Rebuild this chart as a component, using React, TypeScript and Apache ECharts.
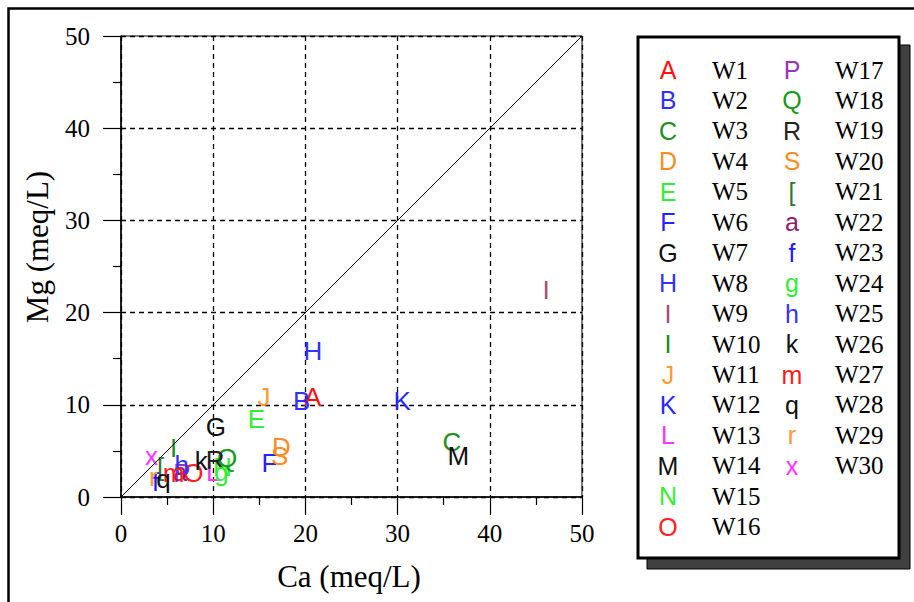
import React, { useEffect, useRef } from 'react';
import * as echarts from 'echarts';

const wells = ['W1','W2','W3','W4','W5','W6','W7','W8','W9','W10','W11','W12','W13','W14','W15','W16','W17','W18','W19','W20','W21','W22','W23','W24','W25','W26','W27','W28','W29','W30'];
const letters = ['A','B','C','D','E','F','G','H','I','I','J','K','L','M','N','O','P','Q','R','S','[','a','f','g','h','k','m','q','r','x'];
const letterColors = ['#ff1010','#3030ff','#1e8f1e','#ff8a20','#33ee33','#2424ff','#111111','#3333ff','#a05070','#228822','#ff9933','#2828ff','#ff33ff','#111111','#33ee33','#ff2020','#9933bb','#1a9a1a','#222222','#ff8c1a','#2a7a2a','#8e1e6e','#1a1aff','#33ee33','#3333ff','#111111','#ff1a1a','#111111','#ff9933','#ff33ff'];
const caValues = [20.8,19.6,35.9,17.4,14.7,16.1,10.3,20.8,46.1,5.7,15.5,30.5,10.0,36.6,11.0,7.85,6.6,11.5,10.2,17.2,4.3,6.4,3.75,10.9,6.6,8.7,5.7,4.6,3.5,3.3];
const mgValues = [10.8,10.4,6.0,5.4,8.5,3.7,7.6,15.8,22.5,5.3,10.9,10.4,2.7,4.4,3.3,2.6,2.6,4.2,4.0,4.45,3.2,2.7,1.6,2.7,3.5,3.9,2.6,1.9,2.2,4.4];
const axisTicks = [0, 10, 20, 30, 40, 50];
const xTitle = 'Ca (meq/L)';
const yTitle = 'Mg (meq/L)';

export default function App() {
  const ref = useRef<HTMLDivElement>(null);
  useEffect(() => {
    const chart = echarts.init(ref.current!, null, { renderer: 'svg' });
    const legendEls: any[] = [];
    legendEls.push({ type: 'rect', shape: { x: 8.5, y: 8.5, width: 1000, height: 1000 }, style: { fill: 'none', stroke: '#000', lineWidth: 2.5 }, z: 0, silent: true });
    legendEls.push({ type: 'rect', shape: { x: 647, y: 45, width: 263, height: 524 }, style: { fill: '#404040', stroke: '#000', lineWidth: 1 }, z: 10 });
    legendEls.push({ type: 'rect', shape: { x: 638, y: 37, width: 261, height: 521 }, style: { fill: '#fff', stroke: '#000', lineWidth: 3 }, z: 11 });
    wells.forEach((w, i) => {
      const col = i < 16 ? 0 : 1;
      const row = i < 16 ? i : i - 16;
      const y = 70 + 30.45 * row;
      legendEls.push({ type: 'text', x: col === 0 ? 668 : 792, y, z: 12, style: { text: letters[i], fill: letterColors[i], font: '25px "Liberation Sans"', align: 'center', verticalAlign: 'middle' } });
      legendEls.push({ type: 'text', x: col === 0 ? 712 : 835, y, z: 12, style: { text: w, fill: '#000', font: '25px "Liberation Serif"', align: 'left', verticalAlign: 'middle' } });
    });
    legendEls.push({ type: 'text', x: 349, y: 576, z: 12, style: { text: xTitle, fill: '#000', font: '31px "Liberation Serif"', align: 'center', verticalAlign: 'middle' } });
    legendEls.push({ type: 'text', x: 37, y: 247, rotation: Math.PI / 2, z: 12, style: { text: yTitle, fill: '#000', font: '31px "Liberation Serif"', align: 'center', verticalAlign: 'middle' } });

    const axisCommon = {
      type: 'value',
      min: axisTicks[0],
      max: axisTicks[axisTicks.length - 1],
      interval: axisTicks[1] - axisTicks[0],
      axisLine: { show: true, onZero: false, lineStyle: { color: '#000', width: 1.5 } },
      axisTick: { show: true, length: 18, lineStyle: { color: '#000', width: 1.2 } },
      minorTick: { show: true, splitNumber: 2, length: 8, lineStyle: { color: '#000', width: 1.2 } },
      splitLine: { show: true, lineStyle: { color: '#000', type: [5, 4], width: 1.3 } },
      axisLabel: { color: '#000', fontFamily: 'Liberation Serif', fontSize: 25 },
    };

    chart.setOption({
      animation: false,
      backgroundColor: '#fff',
      grid: { left: 121, top: 36, right: 332, bottom: 105, show: true, borderColor: '#000', borderWidth: 1, backgroundColor: 'transparent' },
      xAxis: { ...axisCommon, axisLabel: { ...axisCommon.axisLabel, margin: 24 } },
      yAxis: { ...axisCommon, axisLabel: { ...axisCommon.axisLabel, margin: 31 } },
      graphic: legendEls,
      series: [
        {
          type: 'line',
          data: [[0, 0], [50, 50]],
          symbol: 'none',
          silent: true,
          lineStyle: { color: '#000', width: 1 },
        },
        {
          type: 'scatter',
          symbolSize: 1,
          itemStyle: { color: 'rgba(0,0,0,0)' },
          label: {
            show: true,
            position: 'inside',
            fontFamily: 'Liberation Sans',
            fontSize: 26,
            opacity: 1,
            textBorderWidth: 0,
            formatter: (p: any) => letters[p.dataIndex],
          },
          data: wells.map((w, i) => ({ name: w, value: [caValues[i], mgValues[i]], label: { color: letterColors[i] } })),
        },
      ],
    });
    return () => chart.dispose();
  }, []);
  return <div ref={ref} style={{ position: 'absolute', left: 0, top: 0, width: 914, height: 602, background: '#fff' }} />;
}
